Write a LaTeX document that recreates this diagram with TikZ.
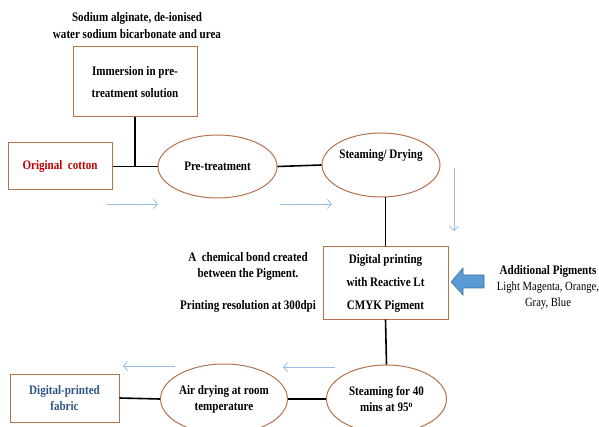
\documentclass[tikz,border=0pt]{standalone}
\usepackage{fontspec}
\setmainfont{Liberation Serif}[FakeStretch=0.85]
\usetikzlibrary{shapes.geometric,arrows.meta}

\definecolor{boxbrown}{RGB}{178,114,78}
\definecolor{flowblue}{RGB}{150,190,228}
\definecolor{blockblue}{RGB}{91,155,213}
\definecolor{blockedge}{RGB}{65,113,156}
\definecolor{cottonred}{RGB}{192,0,0}
\definecolor{fabricblue}{RGB}{46,84,138}

\newcommand{\flowfont}{\bfseries\fontsize{13}{16}\selectfont}

\tikzset{
  stepbox/.style={draw=boxbrown, line width=1pt, rectangle, inner sep=0pt, align=center, font=\flowfont},
  stage/.style={draw=boxbrown, line width=1pt, ellipse, inner sep=0pt, align=center, font=\flowfont},
  note/.style={align=center, inner sep=0pt, font=\flowfont},
  link/.style={line width=1.6pt},
  flow/.style={flowblue, line width=0.8pt, -{Straight Barb[length=4pt,width=9pt]}},
}

\begin{document}
\begin{tikzpicture}[x=1pt,y=-1pt]
  \useasboundingbox (0,0) rectangle (599,427);

  % boxes
  \node [stepbox, minimum width=124pt, minimum height=70pt](imm) at (135,82) {Immersion in pre-\\[6pt]treatment solution};
  \node [stepbox, minimum width=104pt, minimum height=47pt, text=cottonred](orig) at (60,166.5) {Original\ \ cotton};
  \node [stepbox, minimum width=125pt, minimum height=72pt](dig) at (385.5,283) {Digital printing\\[7pt]with Reactive Lt\\[7pt]CMYK Pigment};
  \node [stepbox, minimum width=109pt, minimum height=48pt, text=fabricblue](fab) at (64.5,398) {Digital-printed\\fabric};

  % ellipses
  \node [stage, minimum width=119pt, minimum height=63pt](pre) at (217.5,166.5) {Pre-treatment};
  \node [stage, minimum width=118pt, minimum height=64pt,
         label={[font=\flowfont, yshift=10pt]center:Steaming/ Drying}](steam) at (381,165) {};
  \node [stage, minimum width=118pt, minimum height=70pt](air) at (224,399) {Air drying at room\\temperature};
  \node [stage, minimum width=120pt, minimum height=68pt](st40) at (386.5,399) {Steaming for 40\\mins at 95\textsuperscript{o}};

  % notes
  \node [note](sodium) at (137,25.5) {Sodium alginate, de-ionised\\[1pt]water sodium bicarbonate and urea};
  \node [note](bond) at (248,282) {A\ \ chemical bond created\\between the Pigment.\\[16pt]Printing resolution at 300dpi};
  \node [note](addpig) at (548,287) {Additional Pigments\\{\mdseries\fontsize{12.5}{16}\selectfont Light Magenta, Orange,}\\{\mdseries\fontsize{12.5}{16}\selectfont Gray, Blue}};

  % connectors
  \draw [link] (orig.east) -- (pre.west);
  \draw [link] (imm.south) -- (imm.south |- pre.west);
  \draw [link] (pre.east) -- (steam.west);
  \draw [link] (dig.north) -- (dig.north |- steam.south);
  \draw [link] (dig.south) -- (st40.north);
  \draw [link] (fab.east) -- (air.west);
  \draw [link] (air.east) -- (st40.west);

  % direction arrows
  \coordinate (f1s) at (107,204);
  \coordinate (f1e) at (158,204);
  \coordinate (f2s) at (280,204);
  \coordinate (f2e) at (332,204);
  \coordinate (f3s) at (454,168);
  \coordinate (f3e) at (454,231);
  \coordinate (f4s) at (335,367);
  \coordinate (f4e) at (283,367);
  \coordinate (f5s) at (175,366);
  \coordinate (f5e) at (123,366);
  \foreach \s/\e in {f1s/f1e, f2s/f2e, f3s/f3e, f4s/f4e, f5s/f5e}
    \draw [flow] (\s) -- (\e);

  % pigment arrow
  \fill [blockblue, draw=blockedge, line width=0.6pt]
    (451,282) -- (463,268) -- (463,275) -- (484,275) -- (484,288) -- (463,288) -- (463,295) -- cycle;
\end{tikzpicture}
\end{document}
